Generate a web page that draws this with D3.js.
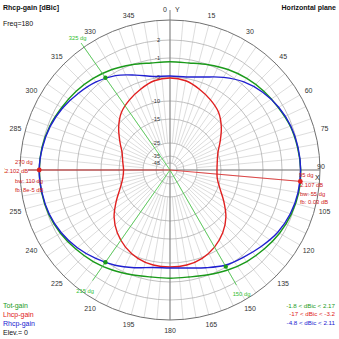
<!DOCTYPE html>
<html><head><meta charset="utf-8">
<script src="https://cdn.jsdelivr.net/npm/d3@7"></script>
<style>
body{margin:0;background:#fff}
svg{display:block}
text{font-family:"Liberation Sans",Arial,sans-serif;font-size:7px}
.small{font-size:5.8px}
.ring{font-size:5.6px}
</style>
</head><body>
<svg id="chart" width="339" height="339"></svg>
<script>
// Azimuth (degrees, 0 = Y axis, clockwise) and gains in dBic
const angles = d3.range(0, 360, 10);
const totGain = [-1.8, -1.7, -1.0, -0.33, 0.25, 0.75, 1.17, 1.67, 1.92, 2.1, 2.1, 1.85, 1.42, 0.83, 0.25, -0.42, -1.1, -1.7,
                 -1.8, -1.7, -1.1, -0.42, 0.25, 0.83, 1.42, 1.85, 2.05, 2.1, 2.0, 1.67, 1.17, 0.75, 0.25, -0.33, -1.0, -1.7];
const lhcpGain = [-5.2, -5.5, -6.46, -7.5, -8.65, -10.56, -13.06, -15.0, -16.25, -16.67, -16.25, -14.44, -11.94, -9.17, -7.29, -5.83, -4.79, -4.26,
                  -4.16, -4.26, -4.79, -5.83, -7.29, -9.17, -11.94, -14.44, -16.25, -16.9, -16.25, -15.0, -13.06, -10.56, -8.65, -7.5, -6.46, -5.5];
const rhcpGain = [-4.8, -4.7, -3.74, -2.05, -0.5, 0.5, 1.25, 1.75, 2.0, 2.08, 2.0, 1.67, 1.08, 0.17, -0.67, -1.42, -2.68, -3.63,
                  -3.95, -3.75, -2.68, -1.42, -0.42, 0.5, 1.25, 1.75, 2.0, 2.11, 1.92, 1.58, 1.0, 0.25, -0.5, -1.63, -3.32, -4.58];

const ringLevels = [2, -1, -5, -10, -15, -25, -35, -45];
const angleTicks = d3.range(0, 360, 15);

// -3 dB beamwidth edges of the Rhcp lobes
const bwAzimuths = [325, 215, 150];
const bwGains = [-0.9, -0.9, -1.1];
// main lobes
const lobeAzimuths = [270, 95];
const lobeGains = [2.102, 2.107];
const lobeWidths = [110, 55];
const lobeFb = ["8e-5", "0.03"];

const seriesNames = ["Tot-gain", "Lhcp-gain", "Rhcp-gain"];
const seriesMin = ["-1.8", "-17", "-4.8"];
const seriesMax = ["2.17", "-3.2", "2.11"];
const seriesColors = ["#1a9a1a", "#e02020", "#2020d0"];

const svg = d3.select("#chart");
const cx = 170, cy = 170, R = 150;
const g = svg.append("g").attr("transform", `translate(${cx},${cy})`);

// radial gain scale (compressed log grid)
const r = d3.scaleLinear()
  .domain([-55, -45, -35, -25, -15, -10, -5, -1, 2, 4.6])
  .range([0, 7, 14, 27, 51, 69, 93, 112, 130, R])
  .clamp(true);
const rad = a => a * Math.PI / 180;
const px = (a, rr) => rr * Math.sin(rad(a));
const py = (a, rr) => -rr * Math.cos(rad(a));

// spokes every 5 degrees
const spokes = d3.range(0, 360, 5);
g.selectAll("line.spoke").data(spokes).join("line")
  .attr("x1", d => px(d, d % 15 === 0 ? r(-45) : r(-25)))
  .attr("y1", d => py(d, d % 15 === 0 ? r(-45) : r(-25)))
  .attr("x2", d => px(d, R)).attr("y2", d => py(d, R))
  .attr("stroke", "#d4d4d4").attr("stroke-width", 0.8);

// grid rings
g.selectAll("circle.ring").data(ringLevels).join("circle")
  .attr("r", d => r(d)).attr("fill", "none").attr("stroke", "#b0b0b0").attr("stroke-width", 0.8);

// outer circle
g.append("circle").attr("r", R).attr("fill", "none").attr("stroke", "#707070").attr("stroke-width", 1);

// axes
g.append("line").attr("x1", 0).attr("x2", 0).attr("y1", -R - 10).attr("y2", R).attr("stroke", "#808080");
g.append("line").attr("x1", -R).attr("x2", R).attr("y1", 0).attr("y2", 0).attr("stroke", "#808080");

// ring labels
g.selectAll("text.rl").data(ringLevels).join("text").attr("class", "ring")
  .attr("x", -10).attr("y", d => -r(d) + 2).attr("text-anchor", "end").attr("fill", "#333").text(d => d);

// angle labels
g.selectAll("text.al").data(angleTicks.filter(d => d !== 0 && d !== 90)).join("text")
  .attr("x", d => px(d, R + 10)).attr("y", d => py(d, R + 10) + 2.5)
  .attr("text-anchor", "middle").attr("fill", "#333").text(d => d);
svg.append("text").attr("x", cx + 147).attr("y", cy - 1).attr("fill", "#333").text("90");
svg.append("text").attr("x", cx - 7).attr("y", 12).attr("fill", "#333").text("0");
svg.append("text").attr("x", cx + 5).attr("y", 12).attr("fill", "#333").text("Y");
svg.append("text").attr("x", cx + 145).attr("y", cy + 10).attr("fill", "#222").text("X");

// patterns
const line = d3.lineRadial().angle(d => rad(d[0])).radius(d => r(d[1])).curve(d3.curveCatmullRomClosed);
[totGain, lhcpGain, rhcpGain].forEach((s, i) => {
  g.append("path").datum(angles.map((a, k) => [a, s[k]]))
    .attr("d", line).attr("fill", "none").attr("stroke", seriesColors[i]).attr("stroke-width", 1.4);
});

// beamwidth markers
const bwLineR = [155, 135, 133], bwLabelR = [161, 148, 143];
bwAzimuths.forEach((az, i) => {
  g.append("line").attr("x1", 0).attr("y1", 0)
    .attr("x2", px(az, bwLineR[i])).attr("y2", py(az, bwLineR[i]))
    .attr("stroke", "#40c840").attr("stroke-width", 0.8);
  g.append("circle").attr("cx", px(az, r(bwGains[i]))).attr("cy", py(az, r(bwGains[i]))).attr("r", 2.2).attr("fill", "#1a9a1a");
  g.append("text").attr("class", "small").attr("x", px(az, bwLabelR[i])).attr("y", py(az, bwLabelR[i]) + 2)
    .attr("text-anchor", "middle").attr("fill", "#30c030").text(az + " dg");
});

// main lobe markers
svg.append("rect").attr("x", 5).attr("y", 166.5).attr("width", 23).attr("height", 6.5).attr("fill", "#fff");
lobeAzimuths.forEach((az, i) => {
  const er = i === 0 ? R + 12 : r(lobeGains[i]);
  g.append("line").attr("x1", 0).attr("y1", 0).attr("x2", px(az, er)).attr("y2", py(az, er))
    .attr("stroke", "#e02020").attr("stroke-width", 0.8);
  g.append("circle").attr("cx", px(az, r(lobeGains[i]))).attr("cy", py(az, r(lobeGains[i]))).attr("r", 2.4).attr("fill", "#e02020");
});
const lobeText = i => [`${lobeAzimuths[i]} dg`, `${lobeGains[i]} dB`, `bw: ${lobeWidths[i]} dg`, `fb: ${lobeFb[i]} dB`];
[[15, 164], [5, 172.5], [15, 183], [15, 192]].forEach(([x, y], k) => {
  svg.append("text").attr("class", "small").attr("x", x).attr("y", y).attr("fill", "#d02020").text(lobeText(0)[k]);
});
[[299, 177], [300, 187], [300, 196], [300, 204]].forEach(([x, y], k) => {
  svg.append("text").attr("class", "small").attr("x", x).attr("y", y).attr("fill", "#d02020").text(lobeText(1)[k]);
});

// titles
svg.append("text").attr("x", 3).attr("y", 10).attr("fill", "#111").style("font-weight", "bold").text("Rhcp-gain [dBic]");
svg.append("text").attr("x", 336).attr("y", 10).attr("text-anchor", "end").attr("fill", "#111").style("font-weight", "bold").text("Horizontal plane");
svg.append("text").attr("x", 3).attr("y", 26).attr("fill", "#111").text("Freq=180");

// legends
seriesNames.forEach((n, i) => {
  svg.append("text").attr("x", 3).attr("y", 308 + i * 9).attr("fill", seriesColors[i]).text(n);
  svg.append("text").attr("x", 335).attr("y", 308 + i * 8.3).attr("text-anchor", "end").attr("fill", seriesColors[i])
    .style("font-size", "6.2px").text(`${seriesMin[i]} < dBic < ${seriesMax[i]}`);
});
svg.append("text").attr("x", 3).attr("y", 335).attr("fill", "#111").text("Elev.= 0");
</script>
</body></html>
